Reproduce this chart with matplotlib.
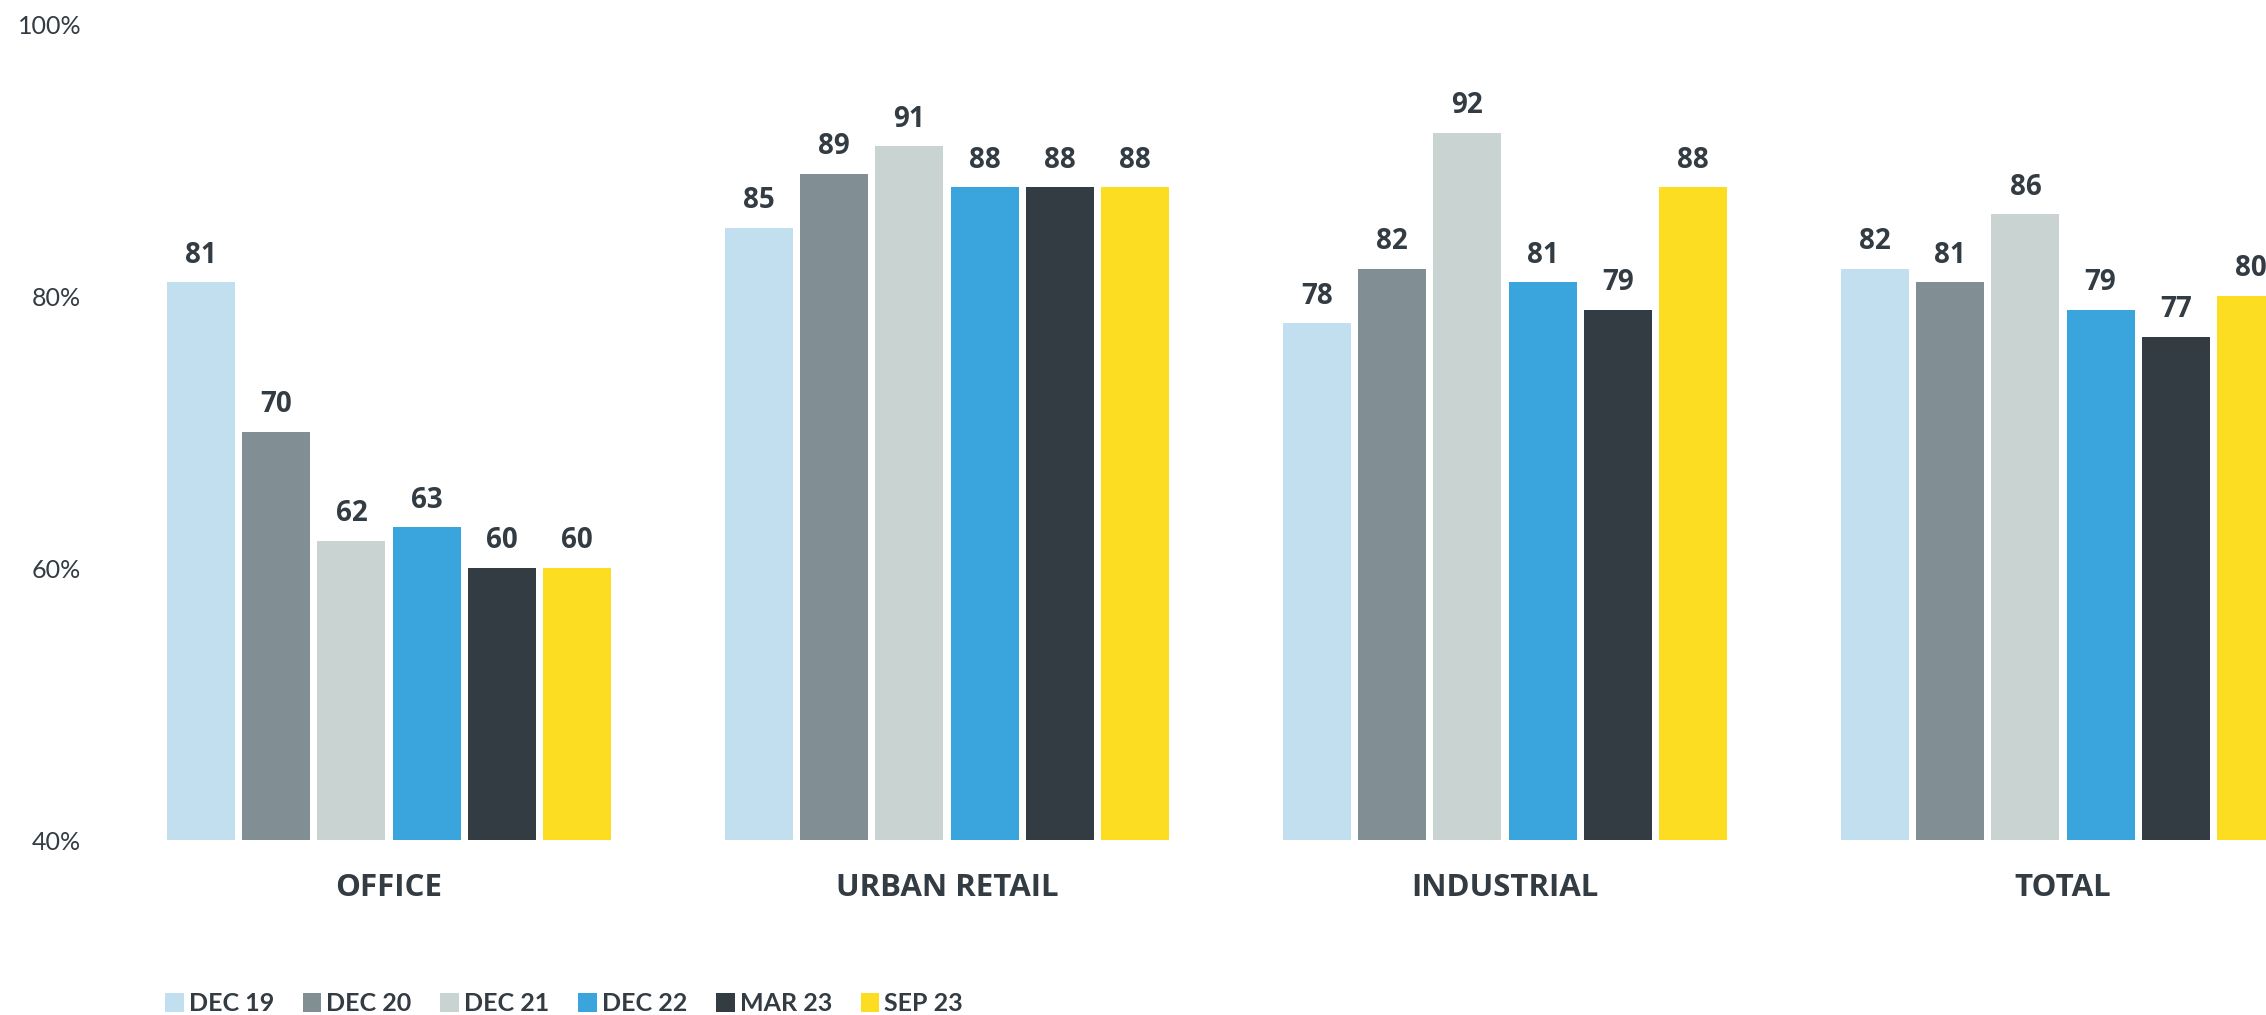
import matplotlib
matplotlib.use("Agg")
import matplotlib.pyplot as plt
from matplotlib.patches import Patch
import numpy as np

categories = ["OFFICE", "URBAN RETAIL", "INDUSTRIAL", "TOTAL"]
series_names = ["DEC 19", "DEC 20", "DEC 21", "DEC 22", "MAR 23", "SEP 23"]
dec19 = [81, 85, 78, 82]
dec20 = [70, 89, 82, 81]
dec21 = [62, 91, 92, 86]
dec22 = [63, 88, 81, 79]
mar23 = [60, 88, 79, 77]
sep23 = [60, 88, 88, 80]
series_values = [dec19, dec20, dec21, dec22, mar23, sep23]
colors = ["#C2DFF0", "#818F95", "#C9D3D2", "#3AA5DC", "#333B43", "#FDDD22"]
ytick_vals = [40, 60, 80, 100]
ytick_labels = ["40%", "60%", "80%", "100%"]

TXT = "#333B43"
W, H = 2266, 1015
fig = plt.figure(figsize=(W / 100, H / 100), dpi=100)

group_px = 558.0
center0_px = 389.0
ax_left_px = 95.0
ax_bottom = (H - 840) / H
ax_top = (H - 24) / H
ax = fig.add_axes([ax_left_px / W, ax_bottom, 1 - ax_left_px / W, ax_top - ax_bottom])
ax.set_xlim((ax_left_px - center0_px) / group_px, (W - center0_px) / group_px)
ax.set_ylim(40, 100)

pitch = 52 / 386
width = 47 / 386
x = np.arange(len(categories))
for i, (name, vals, c) in enumerate(zip(series_names, series_values, colors)):
    xs = x + (i - 2.5) * pitch
    ax.bar(xs, vals, width=width, bottom=0, color=c, label=name, clip_on=True)
    for xi, v in zip(xs, vals):
        ax.annotate(f"{v}", (xi, v), xytext=(0, 9), textcoords="offset points",
                    ha="center", va="bottom", fontsize=20, fontweight="bold",
                    color=TXT, family=["Open Sans", "DejaVu Sans"], annotation_clip=False)

for s in ax.spines.values():
    s.set_visible(False)
ax.set_yticks(ytick_vals)
ax.set_yticklabels(ytick_labels, fontsize=18, color=TXT, family=["Lato", "DejaVu Sans"])
ax.tick_params(axis="y", length=0, pad=10)
ax.set_xticks(x)
ax.set_xticklabels(categories, fontsize=22.5, fontweight="bold", color=TXT,
                   family=["Open Sans", "DejaVu Sans"])
ax.tick_params(axis="x", length=0, pad=24)

handles = [Patch(facecolor=c, edgecolor="none") for c in colors]
leg = fig.legend(handles, series_names, loc="center left", bbox_to_anchor=(0.0728, 0.011),
                 ncol=6, frameon=False, handlelength=0.75, handleheight=0.75,
                 handletextpad=0.2, columnspacing=1.15, borderpad=0, borderaxespad=0,
                 prop={"family": ["Lato", "DejaVu Sans"], "weight": "bold", "size": 18})
for t in leg.get_texts():
    t.set_color(TXT)

fig.savefig("out.png", dpi=100)
